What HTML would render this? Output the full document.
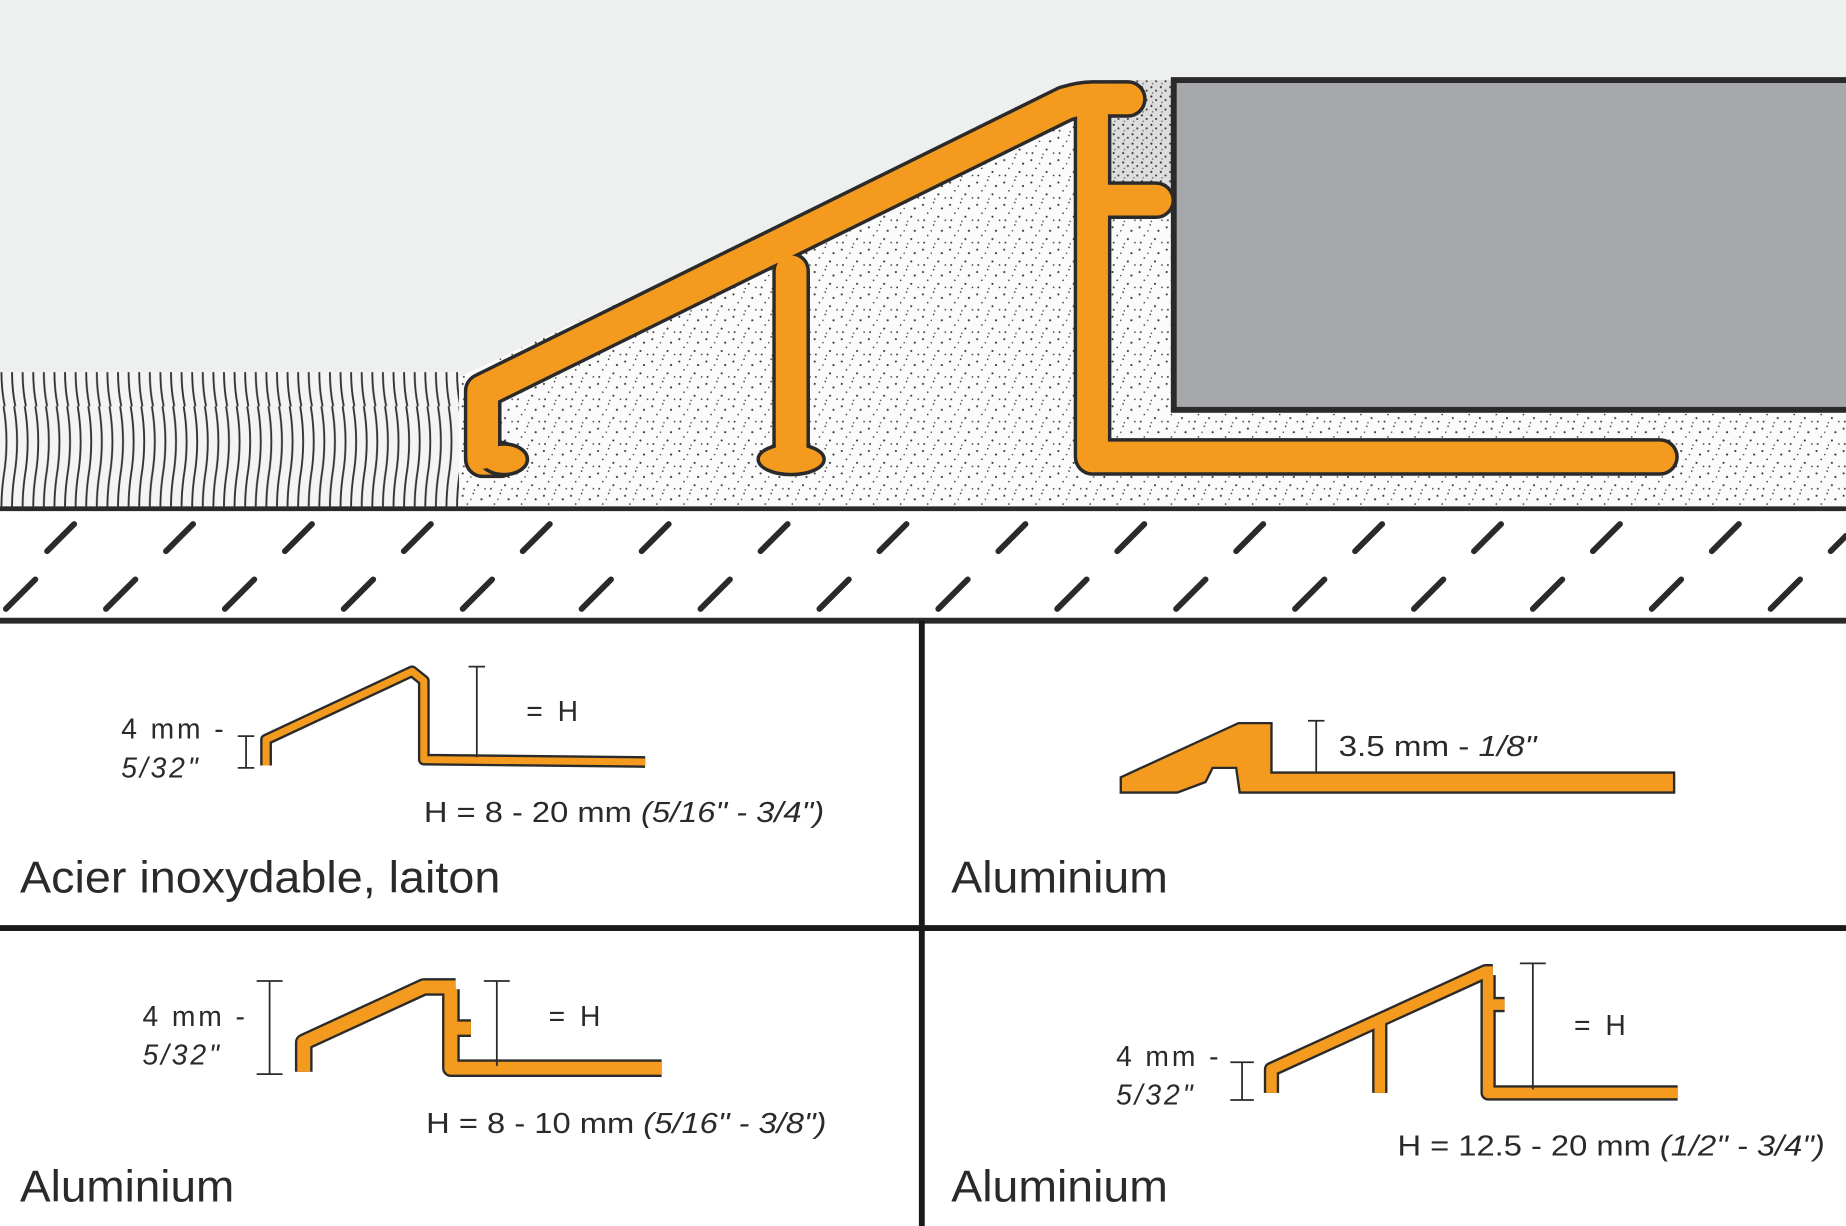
<!DOCTYPE html>
<html><head><meta charset="utf-8"><style>html,body{margin:0;padding:0;background:#fff}svg{display:block}</style></head>
<body>
<svg width="1846" height="1226" viewBox="0 0 1568 1041" preserveAspectRatio="none" xmlns="http://www.w3.org/2000/svg" font-family="Liberation Sans, sans-serif">
<defs>
<pattern id="dots" width="23" height="19" patternUnits="userSpaceOnUse">
<rect width="23" height="19" fill="#fbfbfb"/>
<circle cx="2" cy="3" r="0.9" fill="#333"/><circle cx="11" cy="1" r="0.7" fill="#333"/><circle cx="18" cy="6" r="0.9" fill="#333"/>
<circle cx="6" cy="10" r="0.7" fill="#333"/><circle cx="15" cy="13" r="0.9" fill="#333"/><circle cx="21" cy="16" r="0.7" fill="#333"/>
<circle cx="3" cy="16" r="0.8" fill="#333"/><circle cx="9" cy="6" r="0.6" fill="#333"/><circle cx="12" cy="17" r="0.6" fill="#333"/>
</pattern>
<pattern id="dense" width="8" height="8" patternUnits="userSpaceOnUse">
<rect width="8" height="8" fill="#ddd"/>
<circle cx="2" cy="2" r="0.9" fill="#333"/><circle cx="6" cy="5" r="0.9" fill="#444"/><circle cx="3" cy="7" r="0.6" fill="#555"/>
</pattern>
<pattern id="carpet" width="9" height="115" patternUnits="userSpaceOnUse">
<rect width="9" height="115" fill="#f4f4f4"/>
<path d="M3 0 Q8 30 3 60 Q-1 90 4 115" fill="none" stroke="#333" stroke-width="1.6"/>
</pattern>
</defs>
<rect width="1568" height="432" fill="#eef0ef"/>
<rect x="0" y="316" width="390" height="114" fill="url(#carpet)"/>
<path d="M390 320 L920 72 L1568 72 L1568 430 L390 430 Z" fill="url(#dots)"/>
<rect x="942" y="68" width="55" height="92" fill="url(#dense)"/>
<rect x="997" y="68" width="575" height="280" fill="#a7a8ab" stroke="#2a2a2a" stroke-width="5"/>
<!-- main profile -->
<g fill="none" stroke-linejoin="round" stroke-linecap="round">
<g stroke="#2a2a2a" stroke-width="32">
<path d="M425 390 L410 390 L410 332 L905 88 Q918 84 928 84 L958 84 M928 90 L928 388 L1410 388 M928 170 L982 170 M672 230 L672 388"/>
</g>
<g stroke="#f39a1f" stroke-width="26">
<path d="M425 390 L410 390 L410 332 L905 88 Q918 84 928 84 L958 84 M928 90 L928 388 L1410 388 M928 170 L982 170 M672 230 L672 388"/>
</g>
</g>
<ellipse cx="428" cy="390" rx="20" ry="13" fill="#f39a1f" stroke="#2a2a2a" stroke-width="3"/>
<ellipse cx="672" cy="390" rx="28" ry="13" fill="#f39a1f" stroke="#2a2a2a" stroke-width="3"/>
<path d="M410 332 L905 88 M928 90 L928 388 M672 230 L672 388 M928 170 L982 170 M410 332 L410 385" stroke="#f39a1f" stroke-width="26" stroke-linecap="round"/>
<!-- floor band -->
<rect x="0" y="432" width="1568" height="95" fill="#fff"/>
<line x1="0" y1="432" x2="1568" y2="432" stroke="#2a2a2a" stroke-width="4"/>
<line x1="0" y1="527" x2="1568" y2="527" stroke="#2a2a2a" stroke-width="5"/>
<g stroke="#2a2a2a" stroke-width="5" stroke-linecap="round">
<path d="M40 468 L63 445 M141 468 L164 445 M242 468 L265 445 M343 468 L366 445 M444 468 L467 445 M545 468 L568 445 M646 468 L669 445 M747 468 L770 445 M848 468 L871 445 M949 468 L972 445 M1050 468 L1073 445 M1151 468 L1174 445 M1252 468 L1275 445 M1353 468 L1376 445 M1454 468 L1477 445 M1555 468 L1568 455"/>
<path d="M5 517 L30 492 M90 517 L115 492 M191 517 L216 492 M292 517 L317 492 M393 517 L418 492 M494 517 L519 492 M595 517 L620 492 M696 517 L721 492 M797 517 L822 492 M898 517 L923 492 M999 517 L1024 492 M1100 517 L1125 492 M1201 517 L1226 492 M1302 517 L1327 492 M1403 517 L1428 492 M1504 517 L1529 492"/>
</g>
<!-- dividers -->
<line x1="783" y1="527" x2="783" y2="1041" stroke="#1a1a1a" stroke-width="5"/>
<line x1="0" y1="788" x2="1568" y2="788" stroke="#1a1a1a" stroke-width="5"/>
<!-- small profiles -->
<g fill="none" stroke-linejoin="round">
<path d="M226 650 L226 628 L350 570 L360 578 L360 645 L548 647" stroke="#2a2a2a" stroke-width="10"/>
<path d="M226 650 L226 628 L350 570 L360 578 L360 645 L548 647" stroke="#f39a1f" stroke-width="6"/>
<path d="M258 910 L258 885 L360 838 L387 838 M383 840 L383 907 L562 907 M383 873 L400 873" stroke="#2a2a2a" stroke-width="15"/>
<path d="M258 910 L258 885 L360 838 L387 838 M383 840 L383 907 L562 907 M383 873 L400 873" stroke="#f39a1f" stroke-width="11"/>
<path d="M1080 928 L1080 908 L1262 825 L1268 825 M1264 828 L1264 928 L1425 928 M1264 853 L1278 853 M1172 868 L1172 928" stroke="#2a2a2a" stroke-width="13"/>
<path d="M1080 928 L1080 908 L1262 825 L1268 825 M1264 828 L1264 928 L1425 928 M1264 853 L1278 853 M1172 868 L1172 928" stroke="#f39a1f" stroke-width="9"/>
</g>
<path d="M952 660 L1052 614 L1080 614 L1080 656 L1422 656 L1422 673 L1053 673 L1050 652 L1030 652 L1024 664 L1000 673 L952 673 Z" fill="#f39a1f" stroke="#2a2a2a" stroke-width="2"/>
<!-- dimension lines -->
<g stroke="#2a2a2a" stroke-width="1.5">
<path d="M405 566 L405 643 M398 566 L412 566"/>
<path d="M209 625 L209 652 M202 625 L216 625 M202 652 L216 652"/>
<path d="M1118 612 L1118 655 M1111 612 L1125 612"/>
<path d="M229 833 L229 912 M218 833 L240 833 M218 912 L240 912"/>
<path d="M422 833 L422 905 M411 833 L433 833"/>
<path d="M1055 902 L1055 934 M1045 902 L1065 902 M1045 934 L1065 934"/>
<path d="M1302 818 L1302 925 M1291 818 L1313 818"/>
</g>
<g fill="#2a2a2a" font-size="24">
<text x="103" y="627" textLength="87">4 mm -</text><text x="103" y="660" font-style="italic" textLength="65">5/32"</text>
<text x="447" y="612" textLength="44">= H</text>
<text x="360" y="698" textLength="340" lengthAdjust="spacingAndGlyphs">H = 8 - 20 mm <tspan font-style="italic">(5/16" - 3/4")</tspan></text>
<text x="1137" y="642" textLength="168" lengthAdjust="spacingAndGlyphs">3.5 mm - <tspan font-style="italic">1/8"</tspan></text>
<text x="121" y="871" textLength="87">4 mm -</text><text x="121" y="904" font-style="italic" textLength="65">5/32"</text>
<text x="466" y="871" textLength="44">= H</text>
<text x="362" y="962" textLength="340" lengthAdjust="spacingAndGlyphs">H = 8 - 10 mm <tspan font-style="italic">(5/16" - 3/8")</tspan></text>
<text x="948" y="905" textLength="87">4 mm -</text><text x="948" y="938" font-style="italic" textLength="65">5/32"</text>
<text x="1337" y="879" textLength="44">= H</text>
<text x="1187" y="981" textLength="363" lengthAdjust="spacingAndGlyphs">H = 12.5 - 20 mm <tspan font-style="italic">(1/2" - 3/4")</tspan></text>
</g>
<g fill="#2a2a2a" font-size="38">
<text x="17" y="758" textLength="408" lengthAdjust="spacingAndGlyphs">Acier inoxydable, laiton</text>
<text x="808" y="758" textLength="184" lengthAdjust="spacingAndGlyphs">Aluminium</text>
<text x="17" y="1020" textLength="182" lengthAdjust="spacingAndGlyphs">Aluminium</text>
<text x="808" y="1020" textLength="184" lengthAdjust="spacingAndGlyphs">Aluminium</text>
</g>
</svg>
</body></html>
